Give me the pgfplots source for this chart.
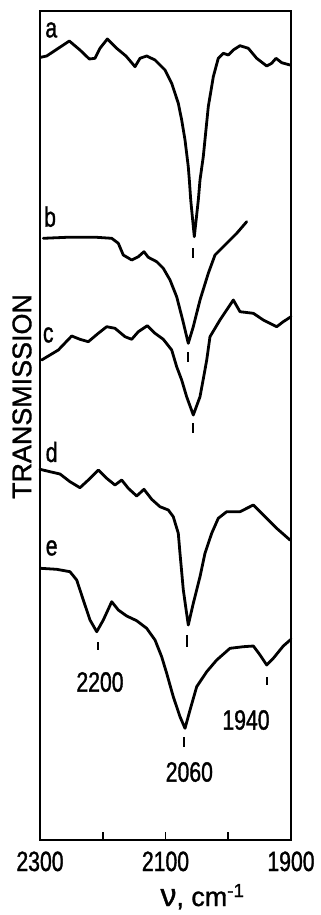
\documentclass[border=0pt]{standalone}
\usepackage{fontspec}
\setmainfont{Liberation Sans}[FakeBold=1.2]
\newfontfamily\numfont{Liberation Sans}[FakeStretch=0.76, FakeBold=1.2]
\usepackage{pgfplots}
\pgfplotsset{compat=1.18}
\begin{document}
\begin{tikzpicture}
\path[use as bounding box] (-40bp,-75bp) rectangle (281bp,840bp);
\begin{axis}[
 scale only axis, width=251bp, height=829bp,
 x dir=reverse, y dir=reverse,
 xmin=1900, xmax=2300, ymin=11, ymax=840,
 clip=false,
 axis line style={line width=2.2bp},
 xtick={1900,2100,2300}, xticklabels={1900,2100,2300},
 minor xtick={2000,2200},
 xtick pos=left, ytick=\empty,
 tick align=inside,
 major tick length=8bp, minor tick length=8bp,
 tick style={line width=1.6bp, black},
 xticklabel style={font=\numfont\fontsize{28}{30}\selectfont, yshift=-8bp},
 cycle list={{black, mark=none}},
 every axis plot/.append style={line width=2.8bp, line join=round, line cap=round},
]
% curve a
\addplot coordinates {(2298.9,57.3)(2289.3,56)(2270.8,48.3)(2253.3,41)(2236.3,50)(2221.4,59)(2212.4,58.3)(2204.4,48.3)(2192.7,39)(2177.8,48.3)(2163,56)(2153.9,62.7)(2148.6,66.7)(2140.6,58.3)(2130,56)(2116.7,60)(2100.8,70)(2090.1,83.3)(2079.6,103.3)(2074.2,120)(2068.9,140)(2063.7,166.7)(2062,180)(2059.8,200)(2054.1,236.7)(2047.7,200)(2045,180)(2039.8,156.7)(2031.8,106.7)(2023.8,76.7)(2015.9,58.3)(2007.9,53.3)(1999.9,55)(1992,50)(1981.3,45.7)(1968,48.3)(1954.7,58.3)(1938.7,66)(1930.8,63.3)(1923.9,58.3)(1914.8,62.7)(1901.6,65)};
% curve b
\addplot coordinates {(2294.7,238.3)(2257.4,237.3)(2209.6,237.3)(2185.7,238.3)(2175.2,243.3)(2167.3,255)(2153.9,260)(2143.3,256.7)(2134.3,251.7)(2127.4,257.3)(2114,261.7)(2103.5,268.3)(2092.8,280)(2082.2,296.7)(2072.6,320)(2063.7,343.3)(2055.7,326.7)(2045,300)(2031.8,273.3)(2021.1,255)(2002.5,243.3)(1986.5,233.3)(1970.6,221.7)};
% curve c
\addplot coordinates {(2297.3,360)(2270.8,350)(2249.5,336)(2236.3,339.3)(2223,341.7)(2207.1,333.3)(2193.7,326.7)(2180.5,328.3)(2164.5,336.7)(2153.9,339.3)(2143.3,331.7)(2129,325.7)(2116.7,333.3)(2103.5,339.3)(2090.1,350)(2082.2,366.7)(2074.2,380)(2066.3,396.7)(2055.7,415)(2045,396.7)(2038.6,375)(2034.3,360)(2029.1,336.7)(2013.2,320)(1991.9,300)(1981.3,311.7)(1960,313.3)(1944.1,320)(1933.5,323.3)(1922.8,326.7)(1912.3,321.7)(1900,316.7)};
% curve d
\addplot coordinates {(2300,469.3)(2284.1,471.7)(2268.1,474)(2252.2,481.7)(2236.3,487.7)(2223,480)(2207.1,470)(2193.7,478.3)(2180.5,485)(2169.8,480)(2159.3,488.3)(2145.9,496)(2134.3,489.3)(2122,499.3)(2108.8,506.7)(2095.5,510)(2087.6,516.7)(2079.6,533.3)(2076.9,553.3)(2071.6,590)(2063.7,625)(2055.7,603.3)(2045,576.7)(2037.1,553.3)(2026.4,533.3)(2015.9,518.3)(2002.5,511.7)(1981.3,511.7)(1960,505)(1944.1,515)(1922.8,528.3)(1901.6,540)};
% curve e
\addplot coordinates {(2298.9,568.3)(2273.4,569.3)(2252.2,571.7)(2241.5,580)(2231,600)(2220.3,620)(2209.6,631.7)(2199.1,620)(2185.7,601.7)(2175.2,610)(2161.8,616)(2145.9,620.7)(2130,628.3)(2116.7,640)(2106.1,656.7)(2098.1,673.3)(2087.6,696.7)(2076.9,716.7)(2068.9,728.3)(2060.9,710)(2050.3,686.7)(2034.3,671.7)(2018.4,660)(1997.2,648.3)(1976,646.7)(1960,646)(1949.3,655)(1938.7,665)(1928.2,658.3)(1912.3,646)(1900,639.3)};
% peak markers
\addplot[line width=1.8bp, line cap=butt] coordinates {(2056.7,248)(2056.7,258)};
\addplot[line width=1.8bp, line cap=butt] coordinates {(2063.7,352)(2063.7,362)};
\addplot[line width=1.8bp, line cap=butt] coordinates {(2055.7,423)(2055.7,433)};
\addplot[line width=1.8bp, line cap=butt] coordinates {(2066.3,635)(2066.3,647)};
\addplot[line width=1.8bp, line cap=butt] coordinates {(2208,642)(2208,650)};
\addplot[line width=1.8bp, line cap=butt] coordinates {(1938.7,677)(1938.7,685)};
\addplot[line width=1.8bp, line cap=butt] coordinates {(2070,737)(2070,747)};
% labels
\begin{scope}[every node/.style={font=\numfont\fontsize{28}{30}\selectfont, inner sep=0pt}]
\node at (axis cs:2282.1,30) {a};
\node at (axis cs:2284,216.7) {b};
\node at (axis cs:2286.8,335) {c};
\node at (axis cs:2281.4,452) {d};
\node at (axis cs:2281.4,548) {e};
\node at (axis cs:2204.4,682) {2200};
\node at (axis cs:1971.7,720) {1940};
\node at (axis cs:2062,772) {2060};
\end{scope}
\node[anchor=base, inner sep=0pt, font=\fontsize{27}{29}\selectfont] at (axis cs:2041,906) {{\fontsize{32}{34}\selectfont ν}, cm\textsuperscript{-1}};
\node[rotate=90, inner sep=0pt, font=\fontsize{27}{29}\selectfont] at (axis cs:2328.7,396.5) {TRANSMISSION};
\end{axis}
\end{tikzpicture}
\end{document}
